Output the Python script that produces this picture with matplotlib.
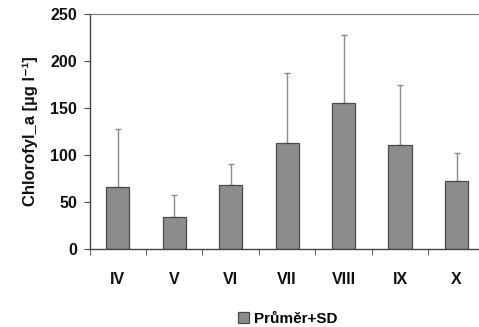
import numpy as np
from matplotlib import pyplot as plt

plt.rcParams['font.family'] = ['Liberation Sans', 'DejaVu Sans']

months = ["IV", "V", "VI", "VII", "VIII", "IX", "X"]
means = [66, 34, 68, 113, 155, 111, 72]
sd = [62, 23, 22, 74, 73, 64, 30]

fig = plt.figure(figsize=(4.79, 3.27), dpi=100)
ax = fig.add_axes([0.187, 0.239, 0.825, 0.717])

x = np.arange(len(months))
bars = ax.bar(x, means, width=0.41, color="#8c8c8c", edgecolor="#4a4a4a",
              linewidth=0.9, label="Průměr+SD", zorder=2)
ax.errorbar(x, means, yerr=[np.zeros(len(sd)), sd], fmt="none",
            ecolor="#8a8a8a", elinewidth=1.0, capsize=2.5, capthick=1.0, zorder=1)

ax.set_xlim(-0.5, len(months) - 0.5)
ax.set_ylim(0, 250)
ax.set_yticks([0, 50, 100, 150, 200, 250])
ax.set_xticks(x)
ax.set_xticklabels(months)
ax.set_xticks(np.arange(len(months) + 1) - 0.5, minor=True)
ax.tick_params(axis="x", which="major", length=0, pad=17)
ax.tick_params(axis="x", which="minor", length=4, direction="out", color="#444444")
ax.tick_params(axis="y", length=4, direction="out", color="#444444", pad=5)

for lab in ax.get_xticklabels() + ax.get_yticklabels():
    lab.set_fontweight("bold")
    lab.set_fontsize(11.5)
    lab.set_color("#111111")

ax.set_ylabel("Chlorofyl_a [µg l⁻¹]", fontsize=12, fontweight="bold",
              color="#111111", labelpad=9)

for side in ["left", "bottom"]:
    ax.spines[side].set_color("#444444")
    ax.spines[side].set_linewidth(1.0)
ax.spines["top"].set_color("#777777")
ax.spines["right"].set_color("#aaaaaa")

fig.legend(handles=[bars], labels=["Průměr+SD"], loc="center",
           bbox_to_anchor=(0.6, 0.025), frameon=False, handlelength=0.75,
           handleheight=0.75, handletextpad=0.3,
           prop={"weight": "bold", "size": 11})

plt.savefig("out.png", dpi=100)
